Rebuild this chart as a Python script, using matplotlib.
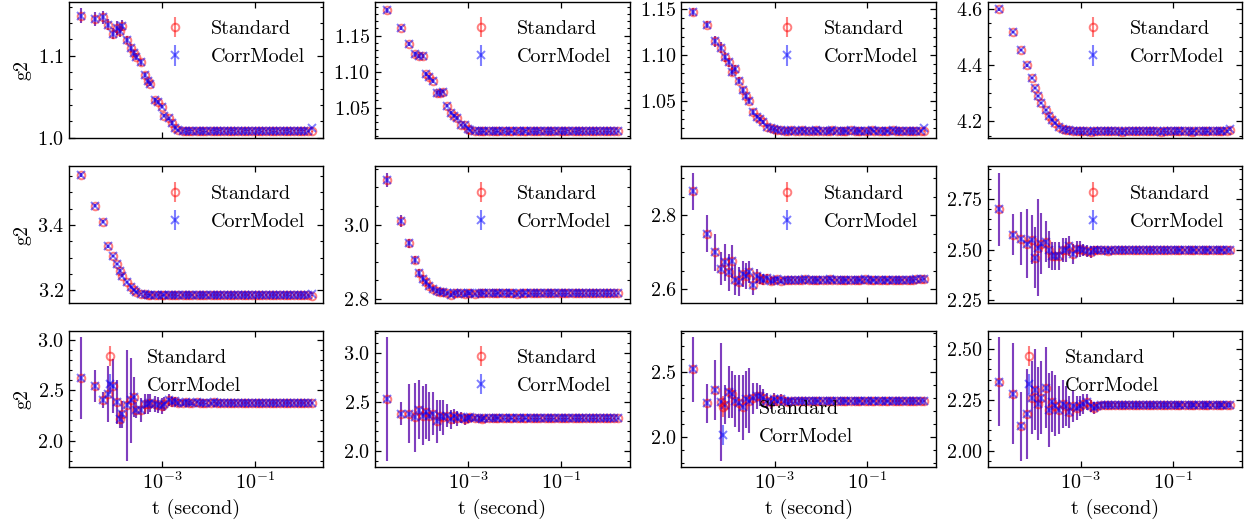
import numpy as np
import matplotlib.pyplot as plt
from matplotlib.ticker import AutoMinorLocator, NullLocator

plt.rcParams.update({
    'font.family': 'cmr10',
    'mathtext.fontset': 'cm',
    'axes.formatter.use_mathtext': True,
    'font.size': 14.5,
    'axes.linewidth': 1.0,
    'xtick.direction': 'in',
    'ytick.direction': 'in',
    'xtick.top': True,
    'ytick.right': True,
    'xtick.major.size': 4,
    'ytick.major.size': 4,
    'ytick.minor.size': 2.2,
    'xtick.major.width': 0.9,
    'ytick.major.width': 0.9,
    'ytick.minor.width': 0.8,
})

# multi-tau lags (in frames) and frame time
dt = 1.74e-5
lags = [1, 2, 3, 4, 5, 6, 7, 8, 10, 12, 14, 16, 20, 24, 28, 32, 40, 48, 56, 64,
        80, 96, 112, 128, 160, 192, 224, 256, 320, 384, 448, 512, 640, 768, 896, 1024,
        1280, 1536, 1792, 2048, 2560, 3072, 3584, 4096, 5120, 6144, 7168, 8192,
        10240, 12288, 14336, 16384, 20480, 24576, 28672, 32768, 40960, 49152,
        57344, 65536, 81920, 98304]

# ---- g2 (Standard) and errors, one pair per q bin ----
g2_q0 = [1.149, 1.145, 1.147, 1.138, 1.127, 1.134, 1.130, 1.137, 1.119, 1.110, 1.103, 1.099,
         1.092, 1.077, 1.069, 1.066, 1.046, 1.044, 1.038, 1.027, 1.024, 1.018, 1.012, 1.010,
         1.009, 1.008, 1.009, 1.009, 1.008, 1.009, 1.008, 1.008, 1.009, 1.009, 1.008, 1.009, 1.008,
         1.008, 1.009, 1.009, 1.008, 1.008, 1.009, 1.009, 1.009, 1.008, 1.009, 1.008, 1.009,
         1.009, 1.008, 1.008, 1.009, 1.009, 1.009, 1.008, 1.009, 1.009, 1.009, 1.009, 1.008, 1.008]
err_q0 = [.009, .008, .008, .007, .007, .008, .007, .007, .005, .005, .004, .004,
          .004, .003, .003, .003, .003, .002, .002, .002, .002, .002, .001, .001,
          .001, .001, .001, .001, .001, .001, .001, .001, .001, .001, .001, .001, .001,
          .001, .001, .001, .001, .001, .001, .001, .001, .001, .001, .001, .001,
          .001, .001, .001, .001, .001, .001, .001, .001, .001, .001, .001, .001, .001]

g2_q1 = [1.185, 1.161, 1.138, 1.124, 1.122, 1.122, 1.097, 1.092, 1.087, 1.071, 1.071, 1.072,
         1.053, 1.043, 1.039, 1.036, 1.026, 1.026, 1.020, 1.019, 1.018, 1.017, 1.017, 1.017,
         1.017, 1.018, 1.017, 1.017, 1.018, 1.017, 1.017, 1.017, 1.018, 1.017, 1.017, 1.018, 1.017,
         1.017, 1.017, 1.018, 1.017, 1.017, 1.017, 1.018, 1.017, 1.017, 1.017, 1.018, 1.017,
         1.017, 1.018, 1.017, 1.017, 1.017, 1.017, 1.018, 1.017, 1.017, 1.017, 1.017, 1.017, 1.017]
err_q1 = [.003, .003, .003, .003, .003, .003, .003, .003, .003, .002, .002, .002,
          .002, .002, .002, .002, .002, .002, .001, .001, .001, .001, .001, .001,
          .001, .001, .001, .001, .001, .001, .001, .001, .001, .001, .001, .001, .001,
          .001, .001, .001, .001, .001, .001, .001, .001, .001, .001, .001, .001,
          .001, .001, .001, .001, .001, .001, .001, .001, .001, .001, .001, .001, .001]

g2_q2 = [1.147, 1.133, 1.115, 1.108, 1.098, 1.092, 1.082, 1.085, 1.072, 1.062, 1.055, 1.050,
         1.038, 1.033, 1.030, 1.027, 1.022, 1.020, 1.019, 1.018, 1.018, 1.017, 1.017, 1.018,
         1.017, 1.017, 1.018, 1.017, 1.017, 1.017, 1.018, 1.017, 1.017, 1.017, 1.017, 1.018, 1.017,
         1.017, 1.017, 1.017, 1.018, 1.017, 1.017, 1.017, 1.017, 1.017, 1.018, 1.017, 1.017,
         1.017, 1.017, 1.017, 1.018, 1.017, 1.017, 1.017, 1.017, 1.017, 1.017, 1.017, 1.017, 1.017]
err_q2 = [.004, .004, .006, .006, .005, .005, .005, .004, .004, .003, .003, .003,
          .003, .002, .002, .002, .002, .002, .001, .001, .001, .001, .001, .001,
          .001, .001, .001, .001, .001, .001, .001, .001, .001, .001, .001, .001, .001,
          .001, .001, .001, .001, .001, .001, .001, .001, .001, .001, .001, .001,
          .001, .001, .001, .001, .001, .001, .001, .001, .001, .001, .001, .001, .001]

g2_q3 = [4.600, 4.520, 4.455, 4.400, 4.355, 4.320, 4.290, 4.265, 4.240, 4.220, 4.205, 4.195,
         4.182, 4.175, 4.170, 4.168, 4.166, 4.165, 4.165, 4.165, 4.165, 4.164, 4.165, 4.165,
         4.165, 4.165, 4.166, 4.165, 4.165, 4.165, 4.164, 4.165, 4.165, 4.165, 4.165, 4.165, 4.166,
         4.165, 4.165, 4.165, 4.165, 4.164, 4.165, 4.165, 4.165, 4.165, 4.165, 4.165, 4.165,
         4.165, 4.164, 4.165, 4.165, 4.165, 4.165, 4.165, 4.165, 4.166, 4.165, 4.166, 4.167, 4.168]
err_q3 = [.004, .004, .004, .004, .004, .003, .003, .003, .003, .003, .003, .002,
          .002, .002, .002, .002, .002, .002, .002, .002, .002, .002, .002, .002,
          .002, .002, .002, .002, .002, .002, .002, .002, .002, .002, .002, .002, .002,
          .002, .002, .002, .002, .002, .002, .002, .002, .002, .002, .002, .002,
          .002, .002, .002, .002, .002, .002, .002, .002, .002, .002, .002, .002, .002]

g2_q4 = [3.555, 3.460, 3.410, 3.335, 3.305, 3.280, 3.260, 3.245, 3.225, 3.210, 3.200, 3.195,
         3.190, 3.187, 3.186, 3.185, 3.185, 3.185, 3.184, 3.185, 3.185, 3.185, 3.185, 3.184,
         3.185, 3.185, 3.185, 3.185, 3.184, 3.185, 3.185, 3.185, 3.185, 3.185, 3.185, 3.185, 3.185,
         3.184, 3.185, 3.185, 3.185, 3.185, 3.185, 3.185, 3.185, 3.184, 3.185, 3.185, 3.185,
         3.185, 3.185, 3.185, 3.185, 3.185, 3.185, 3.184, 3.185, 3.185, 3.185, 3.185, 3.185, 3.183]
err_q4 = [.006, .005, .005, .005, .004, .004, .004, .004, .003, .003, .003, .003,
          .003, .002, .002, .002, .002, .002, .002, .002, .002, .002, .002, .002,
          .002, .002, .002, .002, .002, .002, .002, .002, .002, .002, .002, .002, .002,
          .002, .002, .002, .002, .002, .002, .002, .002, .002, .002, .002, .002,
          .002, .002, .002, .002, .002, .002, .002, .002, .002, .002, .002, .002, .002]

g2_q5 = [3.120, 3.010, 2.950, 2.905, 2.870, 2.855, 2.845, 2.835, 2.828, 2.822, 2.818, 2.820,
         2.815, 2.812, 2.815, 2.817, 2.815, 2.813, 2.815, 2.815, 2.814, 2.815, 2.816, 2.815,
         2.815, 2.815, 2.815, 2.816, 2.815, 2.815, 2.815, 2.815, 2.814, 2.815, 2.815, 2.815, 2.815,
         2.815, 2.815, 2.815, 2.815, 2.815, 2.816, 2.815, 2.815, 2.815, 2.815, 2.815, 2.815,
         2.815, 2.815, 2.815, 2.815, 2.815, 2.815, 2.815, 2.815, 2.815, 2.815, 2.815, 2.815, 2.815]
err_q5 = [.020, .015, .012, .012, .010, .010, .010, .008, .008, .006, .006, .006,
          .005, .005, .004, .004, .004, .003, .003, .003, .003, .003, .002, .002,
          .002, .002, .002, .002, .002, .002, .002, .002, .002, .002, .002, .002, .002,
          .002, .002, .002, .002, .002, .002, .002, .002, .002, .002, .002, .002,
          .002, .002, .002, .002, .002, .002, .002, .002, .002, .002, .002, .002, .002]

g2_q6 = [2.865, 2.750, 2.700, 2.655, 2.672, 2.645, 2.675, 2.625, 2.620, 2.640, 2.635, 2.645,
         2.610, 2.635, 2.628, 2.625, 2.630, 2.622, 2.625, 2.627, 2.622, 2.625, 2.624, 2.625,
         2.625, 2.624, 2.625, 2.626, 2.625, 2.625, 2.624, 2.625, 2.625, 2.625, 2.626, 2.625, 2.625,
         2.625, 2.625, 2.624, 2.625, 2.625, 2.625, 2.625, 2.626, 2.625, 2.625, 2.625, 2.625,
         2.625, 2.625, 2.624, 2.625, 2.625, 2.625, 2.625, 2.625, 2.625, 2.625, 2.626, 2.626, 2.627]
err_q6 = [.050, .050, .050, .045, .050, .050, .045, .040, .040, .035, .035, .030,
          .025, .020, .015, .015, .010, .010, .008, .006, .005, .004, .003, .003,
          .002, .002, .002, .002, .002, .002, .002, .002, .002, .002, .002, .002, .002,
          .002, .002, .002, .002, .002, .002, .002, .002, .002, .002, .002, .002,
          .002, .002, .002, .002, .002, .002, .002, .002, .002, .002, .002, .002, .002]

g2_q7 = [2.700, 2.575, 2.555, 2.530, 2.550, 2.460, 2.510, 2.530, 2.540, 2.500, 2.470, 2.470,
         2.470, 2.500, 2.500, 2.520, 2.480, 2.505, 2.505, 2.500, 2.495, 2.490, 2.500, 2.500,
         2.500, 2.500, 2.495, 2.500, 2.500, 2.500, 2.500, 2.500, 2.500, 2.498, 2.500, 2.500, 2.500,
         2.500, 2.500, 2.500, 2.500, 2.500, 2.500, 2.498, 2.500, 2.500, 2.500, 2.500, 2.500,
         2.500, 2.500, 2.500, 2.500, 2.500, 2.500, 2.500, 2.500, 2.500, 2.500, 2.500, 2.500, 2.500]
err_q7 = [.180, .100, .130, .170, .120, .150, .240, .150, .100, .090, .070, .070,
          .070, .060, .060, .050, .050, .040, .040, .030, .030, .030, .020, .020,
          .010, .010, .008, .008, .006, .006, .005, .005, .005, .005, .005, .005, .005,
          .005, .005, .005, .005, .005, .005, .005, .005, .005, .005, .005, .005,
          .005, .005, .005, .005, .005, .005, .005, .005, .005, .005, .005, .005, .005]

g2_q8 = [2.620, 2.540, 2.400, 2.460, 2.540, 2.380, 2.210, 2.260, 2.350, 2.400, 2.430, 2.300,
         2.300, 2.360, 2.360, 2.370, 2.360, 2.350, 2.340, 2.360, 2.400, 2.380, 2.390, 2.370,
         2.375, 2.380, 2.375, 2.370, 2.380, 2.375, 2.375, 2.370, 2.375, 2.380, 2.375, 2.375, 2.375,
         2.375, 2.375, 2.375, 2.375, 2.375, 2.375, 2.375, 2.375, 2.375, 2.375, 2.375, 2.375,
         2.375, 2.375, 2.375, 2.375, 2.375, 2.375, 2.375, 2.375, 2.375, 2.375, 2.375, 2.375, 2.375]
err_q8 = [.410, .160, .080, .280, .270, .220, .080, .130, .550, .420, .200, .080,
          .120, .100, .100, .090, .080, .080, .080, .070, .060, .050, .040, .040,
          .030, .025, .020, .015, .010, .010, .010, .008, .008, .008, .008, .008, .008,
          .008, .008, .008, .008, .008, .008, .008, .008, .008, .008, .008, .008,
          .008, .008, .008, .008, .008, .008, .008, .008, .008, .008, .008, .008, .008]

g2_q9 = [2.530, 2.380, 2.380, 2.340, 2.420, 2.360, 2.400, 2.350, 2.380, 2.300, 2.360, 2.340,
         2.360, 2.320, 2.350, 2.330, 2.340, 2.320, 2.330, 2.340, 2.330, 2.330, 2.320, 2.330,
         2.330, 2.330, 2.330, 2.330, 2.330, 2.330, 2.330, 2.330, 2.330, 2.330, 2.330, 2.330, 2.330,
         2.330, 2.330, 2.330, 2.330, 2.330, 2.330, 2.330, 2.330, 2.330, 2.330, 2.330, 2.330,
         2.330, 2.330, 2.330, 2.330, 2.330, 2.330, 2.330, 2.330, 2.330, 2.330, 2.330, 2.330, 2.330]
err_q9 = [.630, .120, .300, .350, .300, .300, .280, .250, .220, .220, .160, .180,
          .120, .100, .080, .080, .060, .060, .050, .040, .030, .030, .020, .020,
          .015, .012, .010, .010, .008, .008, .008, .008, .008, .008, .008, .008, .008,
          .008, .008, .008, .008, .008, .008, .008, .008, .008, .008, .008, .008,
          .008, .008, .008, .008, .008, .008, .008, .008, .008, .008, .008, .008, .008]

g2_q10 = [2.520, 2.260, 2.360, 2.270, 2.250, 2.350, 2.330, 2.280, 2.260, 2.230, 2.290, 2.280,
          2.300, 2.320, 2.320, 2.300, 2.280, 2.270, 2.290, 2.280, 2.290, 2.280, 2.270, 2.280,
          2.280, 2.280, 2.280, 2.280, 2.280, 2.280, 2.280, 2.280, 2.280, 2.280, 2.280, 2.280, 2.280,
          2.280, 2.280, 2.280, 2.280, 2.280, 2.280, 2.280, 2.280, 2.280, 2.280, 2.280, 2.280,
          2.280, 2.280, 2.280, 2.280, 2.280, 2.280, 2.280, 2.280, 2.280, 2.280, 2.280, 2.280, 2.280]
err_q10 = [.250, .150, .230, .450, .150, .200, .180, .200, .220, .250, .220, .250,
           .120, .100, .080, .070, .060, .050, .050, .040, .040, .030, .030, .020,
           .015, .012, .010, .010, .008, .008, .008, .008, .008, .008, .008, .008, .008,
           .008, .008, .008, .008, .008, .008, .008, .008, .008, .008, .008, .008,
           .008, .008, .008, .008, .008, .008, .008, .008, .008, .008, .008, .008, .008]

g2_q11 = [2.340, 2.280, 2.120, 2.180, 2.260, 2.300, 2.230, 2.260, 2.310, 2.200, 2.240, 2.220,
          2.200, 2.230, 2.220, 2.190, 2.220, 2.210, 2.220, 2.230, 2.240, 2.220, 2.210, 2.220,
          2.225, 2.225, 2.225, 2.225, 2.225, 2.225, 2.225, 2.225, 2.225, 2.225, 2.225, 2.225, 2.225,
          2.225, 2.225, 2.225, 2.225, 2.225, 2.225, 2.225, 2.225, 2.225, 2.225, 2.225, 2.225,
          2.225, 2.225, 2.225, 2.225, 2.225, 2.225, 2.225, 2.225, 2.225, 2.225, 2.225, 2.225, 2.225]
err_q11 = [.220, .250, .170, .220, .180, .200, .180, .180, .200, .180, .150, .150,
           .120, .120, .100, .080, .080, .060, .050, .050, .040, .030, .030, .020,
           .015, .012, .010, .010, .008, .008, .008, .008, .008, .008, .008, .008, .008,
           .008, .008, .008, .008, .008, .008, .008, .008, .008, .008, .008, .008,
           .008, .008, .008, .008, .008, .008, .008, .008, .008, .008, .008, .008, .008]

# points where the correlated-noise model differs: {index: (g2, err)}
corr_q0 = {61: (1.012, .001)}
corr_q2 = {61: (1.020, .001)}
corr_q3 = {61: (4.175, .002)}
corr_q4 = {61: (3.190, .002)}

g2_all = [g2_q0, g2_q1, g2_q2, g2_q3, g2_q4, g2_q5,
          g2_q6, g2_q7, g2_q8, g2_q9, g2_q10, g2_q11]
err_all = [err_q0, err_q1, err_q2, err_q3, err_q4, err_q5,
           err_q6, err_q7, err_q8, err_q9, err_q10, err_q11]
corr_all = {0: corr_q0, 2: corr_q2, 3: corr_q3, 4: corr_q4}

# legend placement (center, axes fraction) where 'upper right' is not used
legend_pos = {8: (0.38, 0.695), 10: (0.38, 0.325), 11: (0.378, 0.695)}

t = dt * np.array(lags)

fig, axes = plt.subplots(3, 4, figsize=(12.46, 5.27), dpi=100)
fig.subplots_adjust(left=0.0554, right=0.9968, top=0.996, bottom=0.114,
                    wspace=0.204, hspace=0.206)

for i, ax in enumerate(axes.flat):
    g2 = np.array(g2_all[i])
    err = np.array(err_all[i])
    g2c, errc = g2.copy(), err.copy()
    for k, (v, e) in corr_all.get(i, {}).items():
        g2c[k], errc[k] = v, e

    ax.errorbar(t, g2, yerr=err, fmt='o', color='r', mfc='none', ms=5.5,
                elinewidth=1.5, mew=1.4, alpha=0.5, label='Standard')
    ax.errorbar(t, g2c, yerr=errc, fmt='x', color='b', ms=5.5,
                elinewidth=1.5, mew=1.4, alpha=0.5, label='CorrModel')
    ax.set_xscale('log')
    ax.set_xticks([1e-3, 1e-1])
    ax.xaxis.set_minor_locator(NullLocator())
    ax.yaxis.set_minor_locator(AutoMinorLocator())

    if i in legend_pos:
        ax.legend(loc='center', bbox_to_anchor=legend_pos[i], frameon=False)
    else:
        ax.legend(loc='upper right', frameon=False)

    row, col = divmod(i, 4)
    if col == 0:
        ax.set_ylabel('g2')
    if row == 2:
        ax.set_xlabel('t (second)')
    else:
        ax.tick_params(labelbottom=False)

fig.savefig('out.png', dpi=100)
